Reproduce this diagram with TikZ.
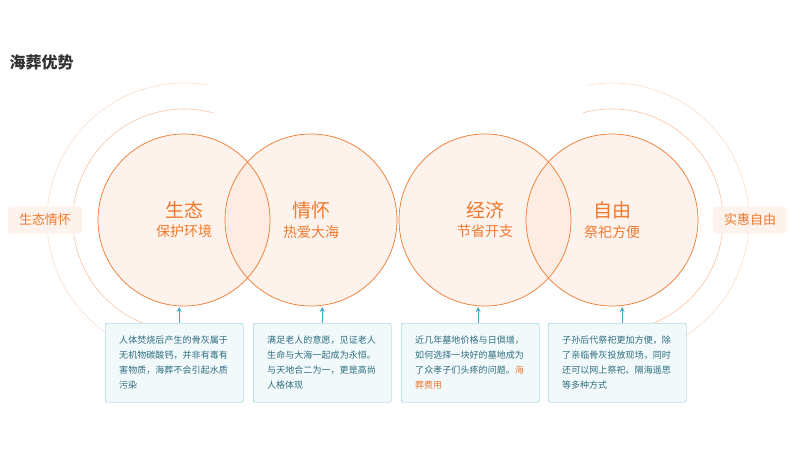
\documentclass[tikz,border=0pt]{standalone}
\usepackage{fontspec}
\setmainfont{Noto Sans CJK SC}
\XeTeXlinebreaklocale "zh"
\XeTeXlinebreakskip = 0pt plus 1pt
\usepackage{tikz}
\usetikzlibrary{positioning,arrows.meta}
\definecolor{orng}{HTML}{EE7A2F}
\definecolor{lorng}{HTML}{FDF3EC}
\definecolor{tealc}{HTML}{3FA9C5}
\definecolor{tealbg}{HTML}{F1F9FB}
\definecolor{txtc}{HTML}{2F6E80}
\tikzset{
  ring/.style = {circle, fill = lorng, minimum size = 172pt, inner sep = 0pt},
  ringlab/.style = {align = center, text = orng},
  sidelab/.style = {fill = lorng, rounded corners = 3pt, text = orng, font = \fontsize{13}{15}\selectfont, minimum width = 74pt, minimum height = 27pt},
  notebox/.style = {draw = tealc!70, fill = tealbg, rounded corners = 2pt, text = txtc, font = \fontsize{9}{15}\selectfont, text width = 110pt, minimum height = 79pt, align = left, anchor = north west, inner xsep = 14pt, inner ysep = 6pt},
  uparrow/.style = {-{Stealth[length = 5pt, width = 5pt]}, draw = tealc, line width = .9pt}
}
\newcommand{\bigt}[1]{{\fontsize{19}{22}\selectfont #1}}
\newcommand{\subt}[1]{{\fontsize{14}{18}\selectfont #1}}
\begin{document}
\begin{tikzpicture}[x = 1pt, y = -1pt]
\useasboundingbox (0,0) rectangle (800,450);
\node[anchor = west, font = \fontsize{16}{18}\selectfont\bfseries, text = black!80] (title) at (6,62) {海葬优势};
% outer arcs
\draw[orng!25, line width = .6pt] (184,220) ++(80:137) arc (80:280:137);
\draw[orng!45, line width = .6pt] (184,220) ++(75:111) arc (75:285:111);
\draw[orng!25, line width = .6pt] (612,220) ++(100:137) arc (100:-100:137);
\draw[orng!45, line width = .6pt] (612,220) ++(105:111) arc (105:-105:111);
% circles
\node[ring] (eco) at (184,220) {};
\node[ring] (love) at (311,220) {};
\node[ring] (cost) at (485,220) {};
\node[ring] (free) at (612,220) {};
\begin{scope}
  \clip (184,220) circle (86);
  \fill[orng!14] (311,220) circle (86);
\end{scope}
\begin{scope}
  \clip (485,220) circle (86);
  \fill[orng!14] (612,220) circle (86);
\end{scope}
\foreach \n in {eco, love, cost, free}
  \draw[orng, line width = .7pt] (\n.center) circle (86);
\node[ringlab] at (eco) {\bigt{生态}\\[5pt]\subt{保护环境}};
\node[ringlab] at (love) {\bigt{情怀}\\[5pt]\subt{热爱大海}};
\node[ringlab] at (cost) {\bigt{经济}\\[5pt]\subt{节省开支}};
\node[ringlab] at (free) {\bigt{自由}\\[5pt]\subt{祭祀方便}};
% side labels
\node[sidelab] (left) at (45,220) {生态情怀};
\node[sidelab] (right) at (750,220) {实惠自由};
% notes
\node[notebox] (n1) at (105,323) {人体焚烧后产生的骨灰属于无机物碳酸钙，并非有毒有害物质，海葬不会引起水质污染};
\node[notebox] (n2) at (253,323) {满足老人的意愿，见证老人生命与大海一起成为永恒。与天地合二为一，更是高尚人格体现};
\node[notebox] (n3) at (401,323) {近几年墓地价格与日俱增，如何选择一块好的墓地成为了众孝子们头疼的问题。\textcolor{orng}{海葬费用}};
\node[notebox] (n4) at (548,323) {子孙后代祭祀更加方便，除了亲临骨灰投放现场，同时还可以网上祭祀、隔海遥思等多种方式};
\draw[uparrow] (n1.north) ++(5,0) -- ++(0,-16);
\draw[uparrow] (n2.north) -- ++(0,-16);
\draw[uparrow] (n3.north) ++(8,0) -- ++(0,-16);
\draw[uparrow] (n4.north) ++(5,0) -- ++(0,-16);
\end{tikzpicture}
\end{document}
